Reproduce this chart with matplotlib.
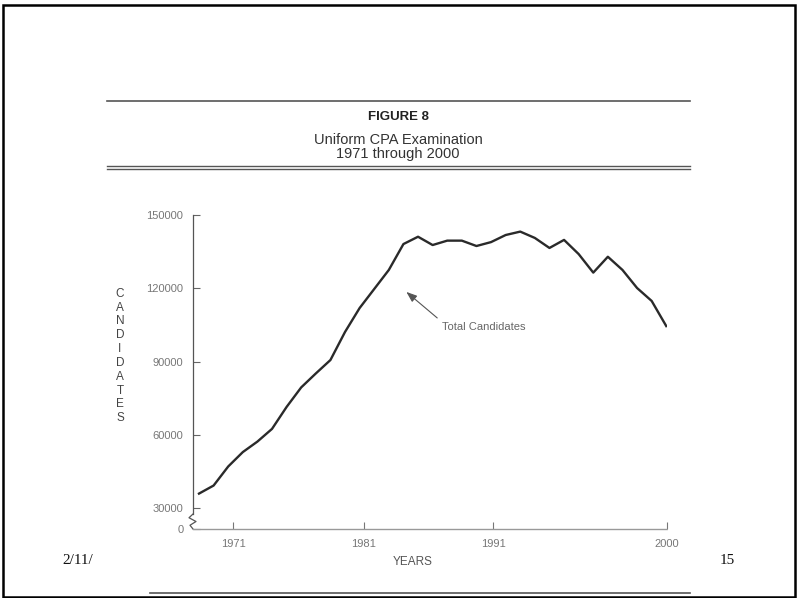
import numpy as np
import matplotlib.pyplot as plt
from matplotlib.lines import Line2D
from matplotlib.patches import Rectangle

# Datos (una observacion por punto de la linea)
candidates = [35900, 39200, 47000, 52900, 57200, 62400, 71400, 79400, 85100,
              90600, 102100, 111900, 119700, 127500, 138100, 141100, 137700,
              139500, 139500, 137300, 138900, 141800, 143200, 140600, 136500,
              139800, 134000, 126400, 132900, 127500, 120100, 114800, 104500]
year_labels = ['1971', '1981', '1991', '2000']
year_tick_pos = [2.33, 11.3, 20.14, 32.05]
y_ticks = [30000, 60000, 90000, 120000, 150000]

W, H = 797, 598
fig = plt.figure(figsize=(W / 100, H / 100), dpi=100)

def fx(px):
    return px / W

def fy(py):
    return 1 - py / H

sans = ['Liberation Sans', 'DejaVu Sans']
serif = ['Liberation Serif', 'DejaVu Serif']

# Eje principal
ax = fig.add_axes([fx(193), fy(529), fx(667) - fx(193), fy(215) - fy(529)])
x = np.arange(len(candidates))
ax.plot(x, candidates, color='#2a2a2a', lw=1.7, solid_joinstyle='round')

# escala con corte: 0 se dibuja debajo de 30000
per_px = 120000 / 293
y_zero = 30000 - 21 * per_px
ax.set_ylim(y_zero, 150000)
ax.set_xlim(-6 / 14.6, year_tick_pos[-1])

ax.set_yticks([y_zero] + y_ticks)
ax.set_yticklabels(['0'] + [str(v) for v in y_ticks], family=sans, fontsize=8, color='#777777')
ax.set_xticks(year_tick_pos)
ax.set_xticklabels(year_labels, family=sans, fontsize=8, color='#777777')
ax.tick_params(axis='y', direction='in', length=5, width=0.8, color='#666666', pad=7)
ax.tick_params(axis='x', direction='in', length=5, width=0.8, color='#777777', pad=7)

for s in ['top', 'right']:
    ax.spines[s].set_visible(False)
ax.spines['left'].set_color('#555555')
ax.spines['left'].set_linewidth(0.9)
brk_top = 150000 - (514 - 215) * per_px
ax.spines['left'].set_bounds(brk_top, 150000)
ax.spines['bottom'].set_color('#999999')
ax.spines['bottom'].set_linewidth(1.0)
ax.spines['bottom'].set_linestyle((0, (2, 1)))

# zigzag del corte del eje
axw = 667 - 193
zx = np.array([0, -4, 3, -3, 0]) / axw
zy = np.linspace(brk_top, y_zero, 5)
ax.plot(zx, zy, transform=ax.get_yaxis_transform(), color='#555555', lw=0.9, clip_on=False)

# Anotacion
ax.annotate('Total Candidates', xy=(14.2, 118500), xytext=(16.65, 104100),
            fontsize=8, family=sans, color='#666666', ha='left', va='center',
            arrowprops=dict(arrowstyle='-|>,head_length=0.8,head_width=0.3',
                            color='#555555', lw=0.8, relpos=(0, 1), shrinkA=2, shrinkB=0))

# Titulos
fig.text(fx(398), fy(117), 'FIGURE 8', ha='center', va='center', fontsize=9.5,
         fontweight='bold', family=sans, color='#222222')
fig.text(fx(398), fy(140), 'Uniform CPA Examination', ha='center', va='center',
         fontsize=10.5, family=sans, color='#333333')
fig.text(fx(398), fy(154), '1971 through 2000', ha='center', va='center',
         fontsize=10.5, family=sans, color='#333333')

fig.text(fx(120), fy(356), '\n'.join('CANDIDATES'), ha='center', va='center',
         fontsize=8.5, family=sans, color='#444444', linespacing=1.2)
fig.text(fx(413), fy(562), 'YEARS', ha='center', va='center', fontsize=8.5,
         family=sans, color='#555555')

fig.text(fx(62), fy(560), '2/11/', ha='left', va='center', fontsize=11,
         family=serif, color='#111111')
fig.text(fx(727), fy(560), '15', ha='center', va='center', fontsize=11,
         family=serif, color='#111111')

# Lineas de la pagina
rule = dict(transform=fig.transFigure, color='#555555')
fig.add_artist(Line2D([fx(107), fx(690)], [fy(101), fy(101)], lw=1.2, **rule))
fig.add_artist(Line2D([fx(107), fx(690)], [fy(166), fy(166)], lw=1.0, **rule))
fig.add_artist(Line2D([fx(107), fx(690)], [fy(169), fy(169)], lw=1.0, **rule))
fig.add_artist(Line2D([fx(150), fx(690)], [fy(593), fy(593)], lw=1.2, **rule))
fig.add_artist(Rectangle((fx(3), fy(597)), fx(795) - fx(3), fy(5) - fy(597),
                         transform=fig.transFigure, fill=False, lw=1.8, ec='black'))

fig.savefig('out.png', dpi=100)
